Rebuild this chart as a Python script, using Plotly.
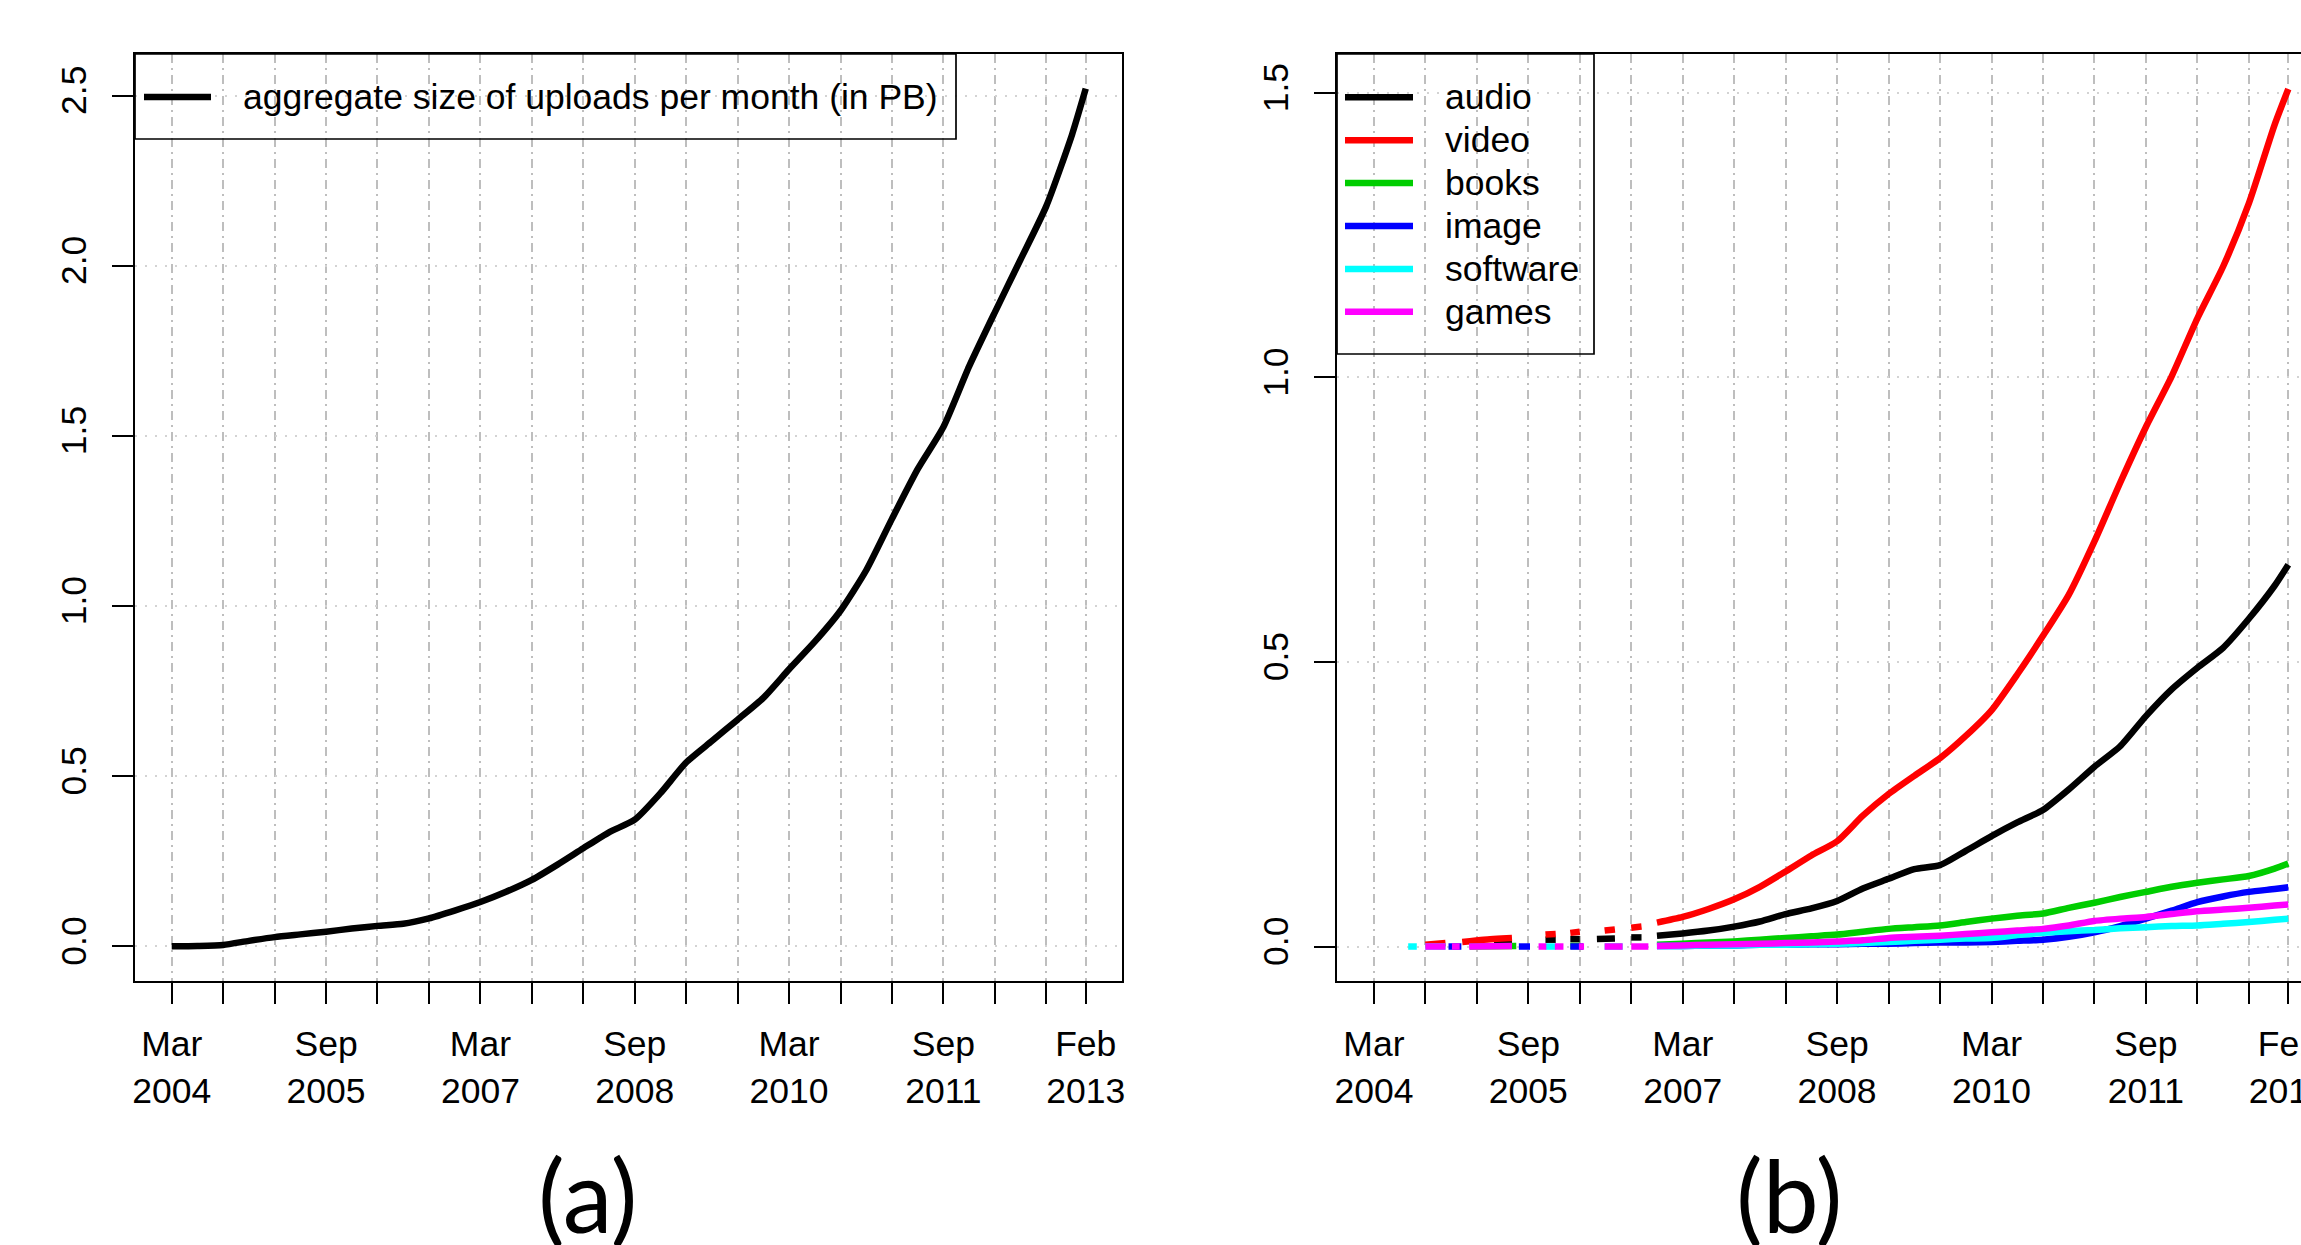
import plotly.graph_objects as go

W, H = 2301, 1245

# ---------------- data ----------------
# x positions are months since March 2004 (last point = Feb 2013)
tick_months = [0, 6, 12, 18, 24, 30, 36, 42, 48, 54, 60, 66, 72, 78, 84, 90, 96, 102, 106.6]
tick_labels = ["Mar<br>2004", "", "", "Sep<br>2005", "", "", "Mar<br>2007", "", "", "Sep<br>2008",
               "", "", "Mar<br>2010", "", "", "Sep<br>2011", "", "", "Feb<br>2013"]

# panel (a)
months_a = [0, 3, 6, 9, 12, 15, 18, 21, 24, 27, 30, 33, 36, 39, 42, 45, 48, 51, 54, 57, 60,
            63, 66, 69, 72, 75, 78, 81, 84, 87, 90, 93, 96, 99, 102, 105, 106.6]
uploads_pb = [0.000, 0.001, 0.004, 0.016, 0.027, 0.035, 0.043, 0.052, 0.060, 0.066, 0.082,
              0.105, 0.130, 0.160, 0.195, 0.240, 0.288, 0.335, 0.372, 0.450, 0.540,
              0.603, 0.666, 0.730, 0.814, 0.895, 0.986, 1.105, 1.256, 1.402, 1.526,
              1.704, 1.863, 2.018, 2.175, 2.385, 2.520]

# panel (b) continuous part
months_b = [33, 36, 39, 42, 45, 48, 51, 54, 57, 60, 63, 66, 69, 72, 75, 78, 81, 84, 87, 90,
            93, 96, 99, 102, 105, 106.6]
audio_pb = [0.019, 0.023, 0.028, 0.035, 0.044, 0.057, 0.067, 0.080, 0.102, 0.119, 0.136,
            0.143, 0.168, 0.194, 0.218, 0.240, 0.276, 0.316, 0.352, 0.405, 0.452, 0.490,
            0.525, 0.576, 0.634, 0.671]
video_pb = [0.042, 0.052, 0.066, 0.083, 0.105, 0.132, 0.160, 0.185, 0.230, 0.268, 0.300,
            0.331, 0.370, 0.415, 0.478, 0.546, 0.618, 0.712, 0.815, 0.913, 1.002, 1.104,
            1.195, 1.306, 1.444, 1.507]
books_pb = [0.003, 0.005, 0.007, 0.009, 0.012, 0.015, 0.018, 0.021, 0.026, 0.031, 0.034,
            0.037, 0.043, 0.049, 0.054, 0.058, 0.068, 0.077, 0.087, 0.096, 0.105, 0.112,
            0.118, 0.124, 0.137, 0.146]
image_pb = [0.001, 0.001, 0.002, 0.002, 0.003, 0.003, 0.004, 0.004, 0.005, 0.005, 0.006,
            0.007, 0.007, 0.008, 0.010, 0.012, 0.017, 0.025, 0.036, 0.049, 0.063, 0.078,
            0.088, 0.096, 0.101, 0.104]
software_pb = [0.001, 0.001, 0.002, 0.002, 0.003, 0.003, 0.004, 0.005, 0.006, 0.008, 0.010,
               0.012, 0.014, 0.015, 0.020, 0.024, 0.027, 0.029, 0.032, 0.034, 0.036, 0.037,
               0.040, 0.043, 0.047, 0.049]
games_pb = [0.001, 0.002, 0.003, 0.004, 0.005, 0.006, 0.007, 0.009, 0.011, 0.015, 0.017,
            0.019, 0.022, 0.025, 0.028, 0.031, 0.037, 0.045, 0.049, 0.052, 0.057, 0.062,
            0.065, 0.068, 0.072, 0.074]

# panel (b) sparse early part (None = missing data, line broken)
audio_early_m = [14.0, 16.1, None, 20.0, 21.2, None, 22.9, 24.0, None, 26.0, 28.1, None, 30.0, 31.2]
audio_early_pb = [0.007, 0.009, None, 0.012, 0.012, None, 0.013, 0.013, None, 0.013, 0.014, None, 0.016, 0.016]
video_early_m = [6.0, 8.35, None, 10.3, 12.8, 16.1, None, 20.0, 21.2, None, 22.9, 24.0, None, 26.9, 28.1, None, 30.0, 31.2]
video_early_pb = [0.003, 0.006, None, 0.008, 0.012, 0.015, None, 0.021, 0.022, None, 0.024, 0.026, None, 0.028, 0.030, None, 0.033, 0.035]
books_early_m = [11.2, 16.6, None, 22.9, 24.0]
books_early_pb = [0.000, 0.001, None, 0.001, 0.001]
image_early_m = [8.7, 10.2, None, 16.9, 18.2, None, 22.9, 24.4]
image_early_pb = [0.000, 0.000, None, 0.000, 0.000, None, 0.000, 0.000]
software_early_m = [4.0, 5.0, None, 6.0, 8.35, None, 20.0, 21.2, None, 26.9, 29.0]
software_early_pb = [0.000, 0.000, None, 0.000, 0.000, None, 0.000, 0.000, None, 0.000, 0.000]
games_early_m = [6.0, 8.35, None, 9.1, 10.0, None, 11.1, 16.1, None, 19.2, 20.1, None, 21.1, 22.1,
                 None, 23.9, 24.5, None, 26.9, 29.0, None, 30.0, 32.0]
games_early_pb = [0.000, 0.000, None, 0.000, 0.000, None, 0.000, 0.001, None, 0.000, 0.000, None,
                  0.000, 0.000, None, 0.000, 0.000, None, 0.000, 0.000, None, 0.000, 0.000]

series_b = [
    ("audio", "#000000", audio_early_m, audio_early_pb, audio_pb),
    ("video", "#FF0000", video_early_m, video_early_pb, video_pb),
    ("books", "#00CD00", books_early_m, books_early_pb, books_pb),
    ("image", "#0000FF", image_early_m, image_early_pb, image_pb),
    ("software", "#00FFFF", software_early_m, software_early_pb, software_pb),
    ("games", "#FF00FF", games_early_m, games_early_pb, games_pb),
]
legend_a_label = "aggregate size of uploads per month (in PB)"

# ---------------- figure ----------------
FONT = "Liberation Sans, Arial, Helvetica, sans-serif"
LW = 6.5
FS = 35.5

fig = go.Figure()
fig.add_trace(go.Scatter(x=months_a, y=uploads_pb, mode="lines", name=legend_a_label,
                         line=dict(color="#000000", width=LW, shape="spline", smoothing=0.6),
                         xaxis="x", yaxis="y", showlegend=False))
for name, color, em, ev, main in series_b:
    xs = list(em) + [None] + list(months_b)
    ys = list(ev) + [None] + list(main)
    fig.add_trace(go.Scatter(x=xs, y=ys, mode="lines", name=name, connectgaps=False,
                             line=dict(color=color, width=LW, shape="spline", smoothing=0.6),
                             xaxis="x2", yaxis="y2", showlegend=False))

def px(x):
    return x / W

def py(y):
    return 1 - y / H

box_top, box_bot = 54, 981
a_left, a_right = 135, 1122
b_left = 1337

xcommon = dict(tickvals=tick_months, ticktext=tick_labels, ticks="outside", ticklen=21,
               tickwidth=1.7, tickcolor="black", showline=True, linecolor="black",
               linewidth=1.7, showgrid=True, gridcolor="#bebebe", gridwidth=1.5,
               griddash="9px,5px,2px,5px", zeroline=False,
               tickfont=dict(family=FONT, size=FS, color="black"),
               ticklabelstandoff=10, ticklabeloverflow="allow", automargin=False, fixedrange=True)
ycommon = dict(ticks="outside", ticklen=21, tickwidth=1.7, tickcolor="black", showline=True,
               linecolor="black", linewidth=1.7, showgrid=True, gridcolor="#d3d3d3",
               gridwidth=1.5, griddash="2px,8px", zeroline=False, tickangle=-90,
               tickfont=dict(family=FONT, size=FS, color="black"), tickformat=".1f",
               ticklabelstandoff=12, automargin=False, fixedrange=True)

fig.update_layout(
    width=W, height=H,
    margin=dict(l=0, r=0, t=0, b=0),
    paper_bgcolor="white", plot_bgcolor="white",
    xaxis=dict(domain=[px(a_left), px(a_right)], range=[-4.28, 110.83], anchor="y",
               mirror=True, **xcommon),
    yaxis=dict(domain=[py(box_bot), py(box_top)], range=[-0.102, 2.622], anchor="x",
               tickvals=[0, 0.5, 1.0, 1.5, 2.0, 2.5], mirror=True, **ycommon),
    xaxis2=dict(domain=[px(b_left), 1.0], range=[-4.30, 108.08], anchor="y2",
                mirror=True, **xcommon),
    yaxis2=dict(domain=[py(box_bot), py(box_top)], range=[-0.0606, 1.5685], anchor="x2",
                tickvals=[0, 0.5, 1.0, 1.5], mirror=False, **ycommon),
    showlegend=False,
)

shapes = []
annotations = []
# legend (a)
shapes.append(dict(type="rect", xref="paper", yref="paper", x0=px(a_left), x1=px(956),
                   y0=py(139), y1=py(box_top), line=dict(color="black", width=1.7)))
shapes.append(dict(type="line", xref="paper", yref="paper", x0=px(144), x1=px(211),
                   y0=py(97), y1=py(97), line=dict(color="black", width=LW)))
annotations.append(dict(xref="paper", yref="paper", x=px(241), y=py(97), text=legend_a_label,
                        showarrow=False, xanchor="left", yanchor="middle",
                        font=dict(family=FONT, size=FS, color="black")))
# legend (b)
shapes.append(dict(type="rect", xref="paper", yref="paper", x0=px(b_left), x1=px(1594),
                   y0=py(354), y1=py(box_top), line=dict(color="black", width=1.7)))
for i, (name, color, _, _, _) in enumerate(series_b):
    yy = 97.3 + 42.9 * i
    shapes.append(dict(type="line", xref="paper", yref="paper", x0=px(1345), x1=px(1413),
                       y0=py(yy), y1=py(yy), line=dict(color=color, width=LW)))
    annotations.append(dict(xref="paper", yref="paper", x=px(1443), y=py(yy), text=name,
                            showarrow=False, xanchor="left", yanchor="middle",
                            font=dict(family=FONT, size=FS, color="black")))
# panel captions
for label, cx in (("(a)", 587), ("(b)", 1789)):
    annotations.append(dict(xref="paper", yref="paper", x=px(cx), y=py(1194), text=label,
                            showarrow=False, xanchor="center", yanchor="middle",
                            font=dict(family="Lato, Open Sans, sans-serif", size=100,
                                      color="black")))

fig.update_layout(shapes=shapes, annotations=annotations)

fig.write_html("out.html", config={"displayModeBar": False},
               post_script="document.body.style.margin='0';document.body.style.overflow='hidden';")
